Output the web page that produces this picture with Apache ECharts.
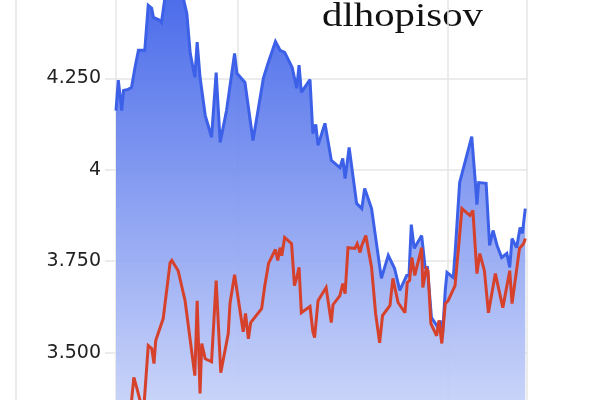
<!DOCTYPE html>
<html>
<head>
<meta charset="utf-8">
<script src="https://cdn.jsdelivr.net/npm/echarts@6/dist/echarts.min.js"></script>
<style>
html,body{margin:0;padding:0;background:#fff;overflow:hidden;width:600px;height:400px;}
#chart{position:absolute;left:0;top:-13px;width:600px;height:470px;}
</style>
</head>
<body>
<div id="chart"></div>
<script>
const titleText = 'dlhopisov';

const yTicks = [3.25, 3.5, 3.75, 4, 4.25, 4.5];
const yTickLabels = ['3.250', '3.500', '3.750', '4', '4.250', '4.500'];

const blueDates = ['2021-06-03','2021-06-07','2021-06-13','2021-06-16','2021-06-24','2021-06-30','2021-07-06','2021-07-12','2021-07-23','2021-07-29','2021-08-04','2021-08-07','2021-08-10','2021-08-18','2021-08-21','2021-08-27','2021-09-05','2021-09-17','2021-09-27','2021-10-04','2021-10-10','2021-10-18','2021-10-22','2021-10-27','2021-11-05','2021-11-16','2021-11-24','2021-12-01','2021-12-12','2021-12-26','2021-12-30','2022-01-13','2022-01-27','2022-02-14','2022-02-22','2022-03-07','2022-03-15','2022-03-23','2022-04-05','2022-04-13','2022-04-17','2022-04-21','2022-05-06','2022-05-11','2022-05-16','2022-05-20','2022-06-01','2022-06-12','2022-06-27','2022-07-02','2022-07-06','2022-07-13','2022-07-26','2022-08-04','2022-08-09','2022-08-21','2022-09-07','2022-09-19','2022-09-30','2022-10-09','2022-10-21','2022-10-25','2022-10-29','2022-11-03','2022-11-16','2022-11-22','2022-11-26','2022-12-03','2022-12-15','2022-12-18','2022-12-22','2022-12-27','2022-12-30','2023-01-10','2023-01-14','2023-01-21','2023-02-11','2023-02-17','2023-02-20','2023-02-23','2023-03-08','2023-03-14','2023-03-20','2023-03-27','2023-04-04','2023-04-13','2023-04-18','2023-04-22','2023-04-30','2023-05-06','2023-05-10','2023-05-15'];
const blueValues = [4.162,4.245,4.162,4.217,4.220,4.225,4.280,4.327,4.327,4.450,4.442,4.417,4.417,4.409,4.403,4.470,4.480,4.490,4.475,4.428,4.318,4.253,4.349,4.253,4.149,4.089,4.266,4.075,4.162,4.318,4.264,4.239,4.080,4.250,4.291,4.351,4.327,4.321,4.280,4.223,4.286,4.212,4.247,4.099,4.124,4.067,4.127,4.026,4.006,4.031,3.976,4.061,3.908,3.894,3.949,3.894,3.703,3.766,3.730,3.670,3.711,3.711,3.850,3.785,3.820,3.733,3.733,3.596,3.568,3.588,3.541,3.670,3.719,3.705,3.793,3.965,4.091,3.971,3.905,3.965,3.963,3.793,3.834,3.793,3.760,3.771,3.733,3.812,3.787,3.842,3.826,3.894];

const redDates = ['2021-06-03','2021-06-20','2021-06-30','2021-07-04','2021-07-09','2021-07-15','2021-07-22','2021-07-29','2021-08-04','2021-08-08','2021-08-11','2021-08-24','2021-09-05','2021-09-08','2021-09-19','2021-10-01','2021-10-18','2021-10-22','2021-10-27','2021-10-30','2021-11-05','2021-11-16','2021-11-24','2021-12-02','2021-12-15','2021-12-18','2021-12-26','2022-01-10','2022-01-14','2022-01-19','2022-01-23','2022-02-11','2022-02-16','2022-02-23','2022-03-07','2022-03-11','2022-03-15','2022-03-18','2022-03-23','2022-04-04','2022-04-09','2022-04-13','2022-04-17','2022-04-21','2022-05-06','2022-05-11','2022-05-14','2022-05-20','2022-06-03','2022-06-12','2022-06-15','2022-06-27','2022-07-02','2022-07-06','2022-07-11','2022-07-23','2022-07-27','2022-08-01','2022-08-04','2022-08-11','2022-08-21','2022-08-28','2022-09-04','2022-09-09','2022-09-22','2022-09-27','2022-10-06','2022-10-18','2022-10-22','2022-10-26','2022-10-30','2022-11-04','2022-11-16','2022-11-18','2022-11-24','2022-11-27','2022-12-02','2022-12-12','2022-12-16','2022-12-21','2022-12-27','2023-01-01','2023-01-13','2023-01-19','2023-01-25','2023-02-02','2023-02-08','2023-02-13','2023-02-20','2023-02-25','2023-03-05','2023-03-12','2023-03-24','2023-04-06','2023-04-18','2023-04-22','2023-05-05','2023-05-12','2023-05-15'];
const redValues = [3.286,3.328,3.368,3.432,3.404,3.368,3.363,3.519,3.511,3.470,3.533,3.593,3.746,3.752,3.724,3.642,3.437,3.642,3.388,3.525,3.483,3.475,3.697,3.445,3.552,3.634,3.713,3.557,3.607,3.538,3.582,3.620,3.678,3.744,3.782,3.752,3.787,3.765,3.815,3.798,3.683,3.705,3.733,3.609,3.626,3.557,3.541,3.642,3.678,3.582,3.631,3.656,3.689,3.661,3.787,3.785,3.798,3.774,3.793,3.820,3.733,3.607,3.527,3.601,3.629,3.703,3.637,3.609,3.692,3.697,3.760,3.711,3.787,3.678,3.730,3.724,3.579,3.546,3.588,3.525,3.634,3.642,3.683,3.787,3.894,3.883,3.875,3.889,3.716,3.771,3.724,3.609,3.716,3.623,3.724,3.634,3.785,3.798,3.812];

const xMin = '2021-06-03';
const xMax = '2023-05-18';

const blueData = blueDates.map((d, i) => [d, blueValues[i]]);
const redData = redDates.map((d, i) => [d, redValues[i]]);

const chart = echarts.init(document.getElementById('chart'), null, {renderer: 'canvas'});
chart.setOption({
  animation: false,
  backgroundColor: '#ffffff',
  grid: {left: 116, right: 73, top: 0, height: 457, containLabel: false, outerBoundsMode: 'none'},
  xAxis: {
    type: 'time',
    min: xMin,
    max: xMax,
    splitNumber: 2,
    axisLine: {show: false},
    axisTick: {show: false},
    axisLabel: {show: false},
    splitLine: {show: true, lineStyle: {color: '#e6e6e6', width: 1.5}}
  },
  yAxis: {
    type: 'value',
    min: 3.25,
    max: 4.5,
    interval: 0.25,
    axisLine: {show: false},
    axisTick: {show: true, length: 11, lineStyle: {color: '#e6e6e6', width: 1.5}},
    axisLabel: {
      margin: 15,
      color: '#222',
      fontFamily: 'DejaVu Sans',
      fontSize: 19,
      formatter: v => {
        const i = yTicks.findIndex(t => Math.abs(t - v) < 1e-6);
        return i >= 0 ? yTickLabels[i] : '';
      }
    },
    splitLine: {show: true, lineStyle: {color: '#e6e6e6', width: 1.5}}
  },
  series: [
    {
      type: 'line',
      data: blueData,
      symbol: 'none',
      z: 2,
      lineStyle: {color: '#3d60e8', width: 3, join: 'miter', miterLimit: 3},
      areaStyle: {
        origin: 'start',
        opacity: 0.92,
        color: new echarts.graphic.LinearGradient(0, 0, 0, 1, [
          {offset: 0, color: '#3a5ee8'},
          {offset: 1, color: '#d3dcfa'}
        ])
      }
    },
    {
      type: 'line',
      data: redData,
      symbol: 'none',
      z: 3,
      lineStyle: {color: '#d6412c', width: 3, join: 'miter', miterLimit: 3}
    }
  ],
  graphic: [
    {
      type: 'line',
      shape: {x1: 16, y1: 0, x2: 16, y2: 470},
      style: {stroke: '#e4e4e4', lineWidth: 1.5},
      silent: true
    },
    {
      type: 'text',
      x: 322,
      y: 13,
      scaleX: 1.2,
      style: {
        text: titleText,
        x: 0,
        y: 0,
        font: '34px "Liberation Serif"',
        fill: '#111',
        textVerticalAlign: 'top'
      },
      silent: true
    }
  ]
});
</script>
</body>
</html>
